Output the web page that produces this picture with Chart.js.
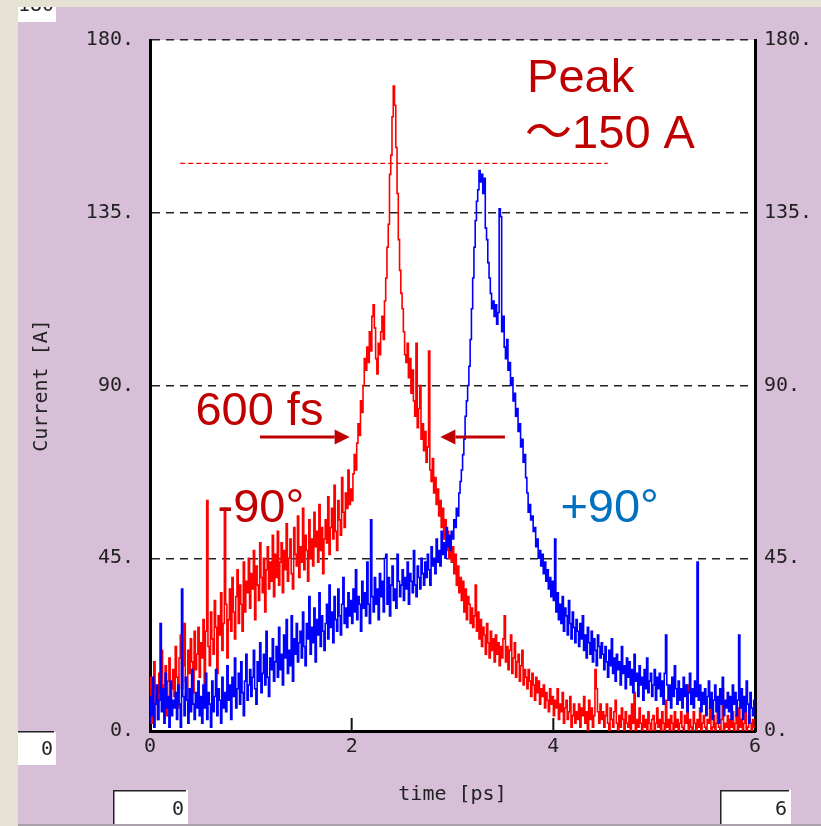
<!DOCTYPE html>
<html><head><meta charset="utf-8">
<script src="https://cdn.jsdelivr.net/npm/chart.js@4.4.1/dist/chart.umd.min.js"></script>
<style>html,body{margin:0;padding:0;background:#d8bfd8;overflow:hidden}canvas{display:block}</style>
</head><body>
<canvas id="c" width="821" height="826"></canvas>
<script>
// sample spacing of the histogram (ps)
const T_STEP = 0.0125;
// -90 deg phase (red)
const minus90 = [
 5,14,2,11,18,7,9,3,15,10,21,6,12,17,4,13,19,8,11,16,
 9,22,14,6,19,25,11,17,28,13,8,21,15,24,18,10,26,16,20,27,
 14,23,19,29,12,26,60,22,17,31,24,20,34,27,15,30,25,36,21,28,
 58,33,19,29,37,26,40,31,24,35,42,28,38,33,26,44,31,39,36,45,
 32,41,37,47,29,43,38,34,49,40,36,45,31,42,48,37,44,39,51,35,
 46,40,52,38,44,49,36,47,42,54,39,45,50,41,37,53,46,43,56,40,
 48,44,58,42,51,47,39,55,45,50,43,57,48,52,44,59,47,53,41,50,
 55,49,61,46,53,58,50,64,52,47,60,55,51,66,57,53,62,58,68,59,
 63,60,67,72,68,75,80,77,86,83,90,97,94,100,96,104,99,108,111,105,
 97,93,101,98,104,108,102,112,118,126,132,145,150,160,168,163,152,140,128,120,
 114,110,104,98,96,101,92,97,88,94,86,82,101,79,84,90,76,80,73,78,
 70,74,99,68,65,71,62,66,59,63,56,60,53,58,50,55,47,52,45,49,
 44,48,41,46,38,43,36,40,34,39,31,37,29,35,33,28,32,27,30,38,
 26,31,24,29,22,27,25,20,28,23,19,26,21,24,18,25,20,23,17,22,
 19,24,30,18,22,16,21,25,15,19,23,14,18,20,13,17,21,12,16,14,
 11,16,13,9,15,12,8,14,10,13,7,11,9,12,6,10,8,5,11,7,
 9,4,8,6,11,3,7,5,10,2,6,8,3,5,9,1,4,7,2,5,
 3,7,1,6,4,9,2,5,0,8,3,6,1,4,16,11,5,2,7,3,
 5,1,4,7,2,0,6,3,1,5,8,2,0,4,1,6,3,0,5,2,
 1,4,0,7,2,10,0,3,1,6,2,0,4,1,3,0,5,2,0,3,
 4,0,2,6,1,3,0,5,2,0,8,1,3,0,4,2,0,5,1,3,
 0,2,5,1,0,4,2,12,0,3,1,0,5,2,0,3,1,6,0,2,
 4,1,0,3,2,6,0,1,4,0,2,5,1,0,3,11,0,2,1,4,
 0,3,1,5,0,2,4,0,6,1,3,0,2,5,0,1,4,2,0,3,
 1];
// +90 deg phase (blue)
const plus90 = [
 2,9,4,14,1,7,12,3,8,28,5,11,2,15,6,9,1,13,4,8,
 6,10,3,12,7,1,37,9,4,14,8,2,11,5,16,7,3,10,6,13,
 4,9,2,12,6,15,3,10,7,1,13,5,9,16,4,11,8,2,14,6,
 10,5,17,8,12,3,14,9,19,6,11,15,7,18,10,4,13,20,8,12,
 16,9,14,21,11,7,18,13,23,10,15,20,12,26,14,9,19,16,24,13,
 18,22,14,27,16,20,12,25,19,29,15,21,17,30,13,24,20,28,18,23,
 26,19,31,22,17,28,24,35,20,27,23,32,18,29,25,36,22,30,26,21,
 28,33,24,38,27,31,23,35,29,26,37,30,25,33,40,28,32,27,36,30,
 34,28,37,31,42,29,35,33,26,39,32,36,30,44,33,28,55,35,31,40,
 33,37,29,41,35,39,31,45,46,33,40,30,38,43,34,37,32,46,39,35,
 38,42,34,40,37,44,33,41,39,36,47,38,35,43,40,37,45,41,38,44,
 40,46,42,38,48,43,45,41,50,44,47,43,52,46,49,45,53,48,51,47,
 52,50,55,53,58,56,62,65,68,72,76,82,86,90,95,102,110,118,126,133,
 138,141,146,143,145,140,144,131,128,122,118,114,110,112,108,111,106,109,136,134,
 104,108,100,97,102,94,96,90,92,86,88,82,84,78,80,74,76,70,72,66,
 62,57,59,55,56,52,53,48,50,45,47,43,46,41,44,39,42,37,40,35,
 39,34,50,31,36,29,33,28,35,26,32,30,25,34,28,24,31,27,23,29,
 26,22,28,24,30,21,25,19,27,23,20,26,18,24,21,17,25,22,19,23,
 20,16,22,18,14,21,17,24,15,19,13,20,16,18,12,22,15,17,11,19,
 14,18,12,16,10,20,13,15,9,17,12,14,8,16,11,19,10,13,15,9,
 12,16,8,14,11,15,9,13,7,15,25,12,8,12,6,14,9,17,11,7,
 13,8,11,6,14,9,12,5,10,15,7,11,6,13,9,44,8,12,5,10,
 7,11,4,9,13,6,10,3,8,12,5,9,2,11,7,14,4,8,6,10,
 5,9,3,12,7,10,4,8,25,6,11,3,9,5,13,7,2,10,6,4,
 8];
const xTicks = [0, 2, 4, 6];
const yTicks = [0, 45, 90, 135, 180];
const peakLevel = 148;

const toPts = arr => arr.map((v, i) => ({ x: +(i * T_STEP).toFixed(4), y: v }));

const MONO = "'DejaVu Sans Mono', 'Liberation Mono', monospace";
const SANS = "'Liberation Sans', Arial, 'Noto Sans CJK JP', sans-serif";
const DARKRED = '#c00000';

const decor = {
  id: 'decor',
  beforeDraw(chart) {
    const ctx = chart.ctx, W = chart.width, H = chart.height, a = chart.chartArea;
    ctx.save();
    ctx.fillStyle = '#d8bfd8';
    ctx.fillRect(0, 0, W, H);
    // top-left cut box
    ctx.fillStyle = '#ffffff';
    ctx.fillRect(18, 7, 38, 15);
    ctx.fillStyle = '#222';
    ctx.font = '20px ' + MONO;
    ctx.textAlign = 'right';
    ctx.textBaseline = 'alphabetic';
    ctx.fillText('180', 54, 11);
    // beige frame strips
    ctx.fillStyle = '#e5e1d3';
    ctx.fillRect(0, 0, W, 7);
    ctx.fillRect(0, 0, 18, H);
    // left lower box
    ctx.fillStyle = '#ffffff';
    ctx.fillRect(18, 732, 38, 33);
    ctx.fillStyle = '#222';
    ctx.fillRect(18, 731, 36, 1.5);
    ctx.fillText('0', 53, 755);
    // bottom boxes
    const box = (x, w, txt) => {
      ctx.fillStyle = '#ffffff';
      ctx.fillRect(x, 790, w, 36);
      ctx.fillStyle = '#222';
      ctx.fillRect(x, 790, w - 2, 1.5);
      ctx.fillRect(x, 790, 1.5, 36);
      ctx.fillText(txt, x + w - 4, 815);
    };
    box(113, 75, '0');
    box(720, 71, '6');
    ctx.fillStyle = '#a9a0a9';
    ctx.fillRect(18, 824, W, 2);
    // plot area
    ctx.fillStyle = '#ffffff';
    ctx.fillRect(a.left, a.top, a.right - a.left, a.bottom - a.top);
    ctx.restore();
  },
  afterDatasetsDraw(chart) {
    const ctx = chart.ctx, xs = chart.scales.x, ys = chart.scales.y, a = chart.chartArea;
    const X = v => xs.getPixelForValue(v), Y = v => ys.getPixelForValue(v);
    ctx.save();
    // inward tick marks
    ctx.strokeStyle = '#111';
    ctx.lineWidth = 2;
    xTicks.forEach(t => {
      if (t > 0 && t < 6) {
        ctx.beginPath();
        ctx.moveTo(X(t), a.bottom);
        ctx.lineTo(X(t), a.bottom - 13);
        ctx.stroke();
      }
    });
    // peak level dashed line
    ctx.strokeStyle = '#ff0000';
    ctx.lineWidth = 1.2;
    ctx.setLineDash([5, 3]);
    ctx.beginPath();
    ctx.moveTo(X(0.3), Y(peakLevel) + 0.5);
    ctx.lineTo(X(4.54), Y(peakLevel) + 0.5);
    ctx.stroke();
    ctx.setLineDash([]);
    // arrows
    const arrow = (x1, x2, y) => {
      const dir = Math.sign(x2 - x1), hl = 15, hh = 7.5;
      ctx.strokeStyle = DARKRED; ctx.fillStyle = DARKRED; ctx.lineWidth = 3;
      ctx.beginPath(); ctx.moveTo(x1, y); ctx.lineTo(x2 - dir * hl, y); ctx.stroke();
      ctx.beginPath(); ctx.moveTo(x2, y); ctx.lineTo(x2 - dir * hl, y - hh); ctx.lineTo(x2 - dir * hl, y + hh); ctx.closePath(); ctx.fill();
    };
    arrow(X(1.09), X(1.98), Y(76.6));
    arrow(X(3.52), X(2.88), Y(76.6));
    // texts
    ctx.textAlign = 'left';
    ctx.textBaseline = 'alphabetic';
    ctx.font = '47px ' + SANS;
    ctx.fillStyle = DARKRED;
    ctx.fillText('Peak', X(3.74), Y(166.5));
    ctx.fillText('～150 A', X(3.72), Y(151.9));
    ctx.fillText('600 fs', X(0.45), Y(79.7));
    ctx.fillText('-90°', X(0.67), Y(54.4));
    ctx.fillStyle = '#0070c0';
    ctx.fillText('+90°', X(4.07), Y(54.4));
    ctx.restore();
  }
};

const tickFont = { family: MONO, size: 20 };

new Chart(document.getElementById('c'), {
  type: 'line',
  data: {
    datasets: [
      { label: '-90°', data: toPts(minus90), borderColor: '#ff0000', borderWidth: 1.6, pointRadius: 0, stepped: 'after', fill: false, order: 1 },
      { label: '+90°', data: toPts(plus90), borderColor: '#0000ff', borderWidth: 1.6, pointRadius: 0, stepped: 'after', fill: false, order: 0 }
    ]
  },
  options: {
    responsive: false,
    animation: false,
    events: [],
    layout: { padding: { top: 40, left: 0, right: 0, bottom: 0 } },
    plugins: { legend: { display: false }, tooltip: { enabled: false } },
    scales: {
      x: {
        type: 'linear', position: 'bottom', min: 0, max: 6,
        afterBuildTicks: s => { s.ticks = xTicks.map(v => ({ value: v })); },
        afterFit: s => { s.height = 95; },
        grid: { display: false, drawTicks: false },
        border: { display: true, color: '#000', width: 3 },
        ticks: { font: tickFont, color: '#222', padding: 4, maxRotation: 0, callback: v => String(v) },
        title: { display: true, text: 'time [ps]', font: tickFont, color: '#222', padding: { top: 0, bottom: 19 } }
      },
      y: {
        type: 'linear', position: 'left', min: 0, max: 180,
        afterBuildTicks: s => { s.ticks = yTicks.map(v => ({ value: v })); },
        afterFit: s => { s.width = 150; },
        grid: { color: c => (c.tick && c.tick.value === 0) ? 'rgba(0,0,0,0)' : '#222', lineWidth: 1.5, drawTicks: false },
        border: { display: true, color: '#000', width: 3, dash: [8, 6] },
        ticks: { font: tickFont, color: '#222', padding: 16, callback: v => v + '.' },
        title: { display: true, text: 'Current [A]', font: tickFont, color: '#222', padding: { top: 30, bottom: 0 } }
      },
      y2: {
        type: 'linear', position: 'right', min: 0, max: 180,
        afterBuildTicks: s => { s.ticks = yTicks.map(v => ({ value: v })); },
        afterFit: s => { s.width = 66; },
        grid: { display: false, drawTicks: false },
        border: { display: true, color: '#000', width: 3 },
        ticks: { font: tickFont, color: '#222', padding: 9, callback: v => v + '.' }
      }
    }
  },
  plugins: [decor]
});
</script>
</body></html>
